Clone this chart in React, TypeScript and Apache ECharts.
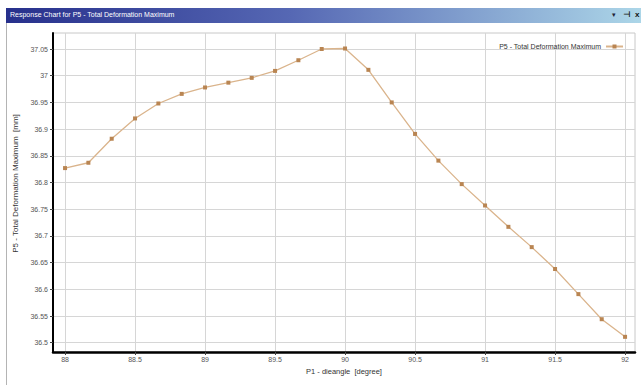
import React, { useEffect, useRef } from "react";
import * as echarts from "echarts";

const xValues = [88, 88.1667, 88.3333, 88.5, 88.6667, 88.8333, 89, 89.1667, 89.3333, 89.5, 89.6667, 89.8333, 90, 90.1667, 90.3333, 90.5, 90.6667, 90.8333, 91, 91.1667, 91.3333, 91.5, 91.6667, 91.8333, 92];
const yValues = [36.827, 36.837, 36.882, 36.920, 36.948, 36.966, 36.978, 36.987, 36.996, 37.009, 37.029, 37.050, 37.051, 37.011, 36.950, 36.891, 36.841, 36.797, 36.757, 36.717, 36.679, 36.638, 36.591, 36.544, 36.511];
const xTicks = [88, 88.5, 89, 89.5, 90, 90.5, 91, 91.5, 92];
const yTicks = [36.5, 36.55, 36.6, 36.65, 36.7, 36.75, 36.8, 36.85, 36.9, 36.95, 37, 37.05];
const seriesName = "P5 - Total Deformation Maximum";
const windowTitle = "Response Chart for P5 - Total Deformation Maximum";
const xName = "P1 - dieangle  [degree]";
const yName = "P5 - Total Deformation Maximum  [mm]";

const FONT = "Liberation Sans";

export default function App() {
  const ref = useRef<HTMLDivElement>(null);
  useEffect(() => {
    if (!ref.current) return;
    const chart = echarts.init(ref.current, undefined, { renderer: "svg" });
    const fmt = (v: number) => String(Math.round(v * 100) / 100);
    chart.setOption({
      animation: false,
      backgroundColor: "#ffffff",
      textStyle: { fontFamily: FONT },
      grid: { left: 53, right: 6, top: 33, bottom: 33, show: true, borderColor: "#c8c8c8", borderWidth: 1 },
      legend: {
        show: true,
        right: 12,
        top: 38,
        align: "right",
        itemWidth: 17,
        itemHeight: 5,
        textStyle: { fontSize: 7, color: "#333333", fontFamily: FONT },
        data: [seriesName],
      },
      xAxis: {
        type: "value",
        min: 87.914,
        max: 92.071,
        name: xName,
        nameLocation: "middle",
        nameGap: 15,
        nameTextStyle: { fontSize: 7.5, color: "#333333", fontFamily: FONT },
        axisLine: { show: true, onZero: false, lineStyle: { color: "#000000", width: 2.5 } },
        axisTick: { show: true, length: 3, lineStyle: { color: "#444444" }, customValues: xTicks },
        axisLabel: { customValues: xTicks, fontSize: 7, color: "#555555", margin: 4, formatter: fmt },
        splitLine: { show: true, lineStyle: { color: "#d6d6d6", width: 1 } },
      },
      yAxis: {
        type: "value",
        min: 36.4826,
        max: 37.08,
        name: yName,
        nameLocation: "middle",
        nameGap: 26,
        nameTextStyle: { fontSize: 8, color: "#333333", fontFamily: FONT, padding: [0, 0, 0, 18] },
        axisLine: { show: true, onZero: false, lineStyle: { color: "#000000", width: 2 } },
        axisTick: { show: true, length: 3, lineStyle: { color: "#444444" }, customValues: yTicks },
        axisLabel: { customValues: yTicks, fontSize: 7, color: "#555555", margin: 5, formatter: fmt },
        splitLine: { show: true, lineStyle: { color: "#d6d6d6", width: 1 } },
      },
      series: [
        {
          name: seriesName,
          type: "line",
          data: xValues.map((x, i) => [x, yValues[i]]),
          symbol: "rect",
          symbolSize: 4,
          showSymbol: true,
          lineStyle: { color: "#dab48c", width: 1.3 },
          itemStyle: { color: "#b98552" },
        },
      ],
      graphic: [
        {
          type: "rect",
          left: 6,
          top: 8,
          shape: { width: 635, height: 15 },
          style: {
            fill: new echarts.graphic.LinearGradient(0, 0, 1, 0, [
              { offset: 0, color: "#27308c" },
              { offset: 0.45, color: "#5668b4" },
              { offset: 1, color: "#acd6e8" },
            ]),
          },
          silent: true,
        },
        {
          type: "text",
          left: 10,
          top: 11,
          style: { text: windowTitle, fill: "#ffffff", fontSize: 7, fontFamily: FONT },
          silent: true,
        },
        {
          type: "text",
          left: 612,
          top: 11,
          style: { text: "▾", fill: "#222233", fontSize: 7, fontFamily: "DejaVu Sans" },
          silent: true,
        },
        {
          type: "text",
          left: 623,
          top: 10,
          style: { text: "⊣", fill: "#111111", fontSize: 8, fontFamily: "DejaVu Sans", fontWeight: "bold" },
          silent: true,
        },
        {
          type: "text",
          left: 635,
          top: 10,
          style: { text: "x", fill: "#111111", fontSize: 8, fontFamily: FONT, fontWeight: "bold" },
          silent: true,
        },
        {
          type: "line",
          shape: { x1: 6.5, y1: 23, x2: 6.5, y2: 385 },
          style: { stroke: "#b4b4b4", lineWidth: 1 },
          silent: true,
        },
      ],
    });
    return () => chart.dispose();
  }, []);
  return (
    <div style={{ position: "fixed", left: 0, top: 0, width: 641, height: 385, background: "#fff" }}>
      <div ref={ref} style={{ width: 641, height: 385 }} />
    </div>
  );
}
